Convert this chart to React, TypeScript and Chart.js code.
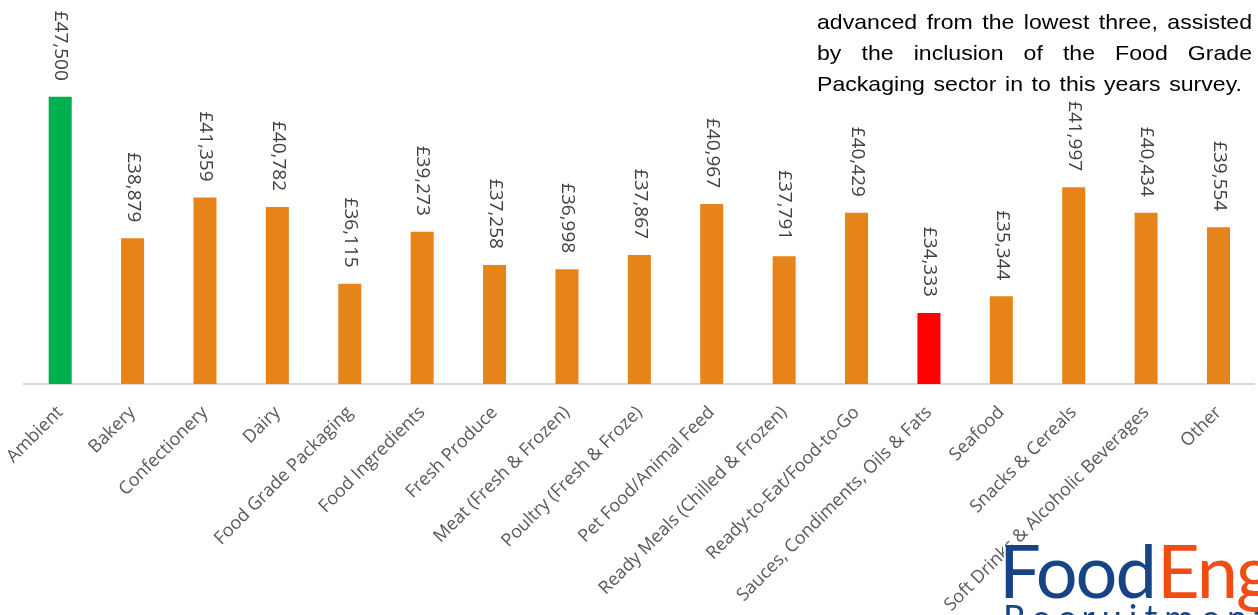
import React, { useEffect, useRef } from "react";
import { Chart, registerables } from "chart.js";

Chart.register(...registerables);

const categories = [
  "Ambient",
  "Bakery",
  "Confectionery",
  "Dairy",
  "Food Grade Packaging",
  "Food Ingredients",
  "Fresh Produce",
  "Meat (Fresh & Frozen)",
  "Poultry (Fresh & Froze)",
  "Pet Food/Animal Feed",
  "Ready Meals (Chilled & Frozen)",
  "Ready-to-Eat/Food-to-Go",
  "Sauces, Condiments, Oils & Fats",
  "Seafood",
  "Snacks & Cereals",
  "Soft Drinks & Alcoholic Beverages",
  "Other",
];

const salaries = [
  47500, 38879, 41359, 40782, 36115, 39273, 37258, 36998, 37867, 40967, 37791,
  40429, 34333, 35344, 41997, 40434, 39554,
];

const highestCategory = "Ambient";
const lowestCategory = "Sauces, Condiments, Oils & Fats";

const yMin = 30000;
const yMax = 53400;

const paragraphLines = [
  "advanced from the lowest three, assisted",
  "by the inclusion of the Food Grade",
  "Packaging sector in to this years survey.",
];

const logoWords = ["Food", "Eng"];
const logoSubtitle = "Recruitment";

const GREEN = "#00b050";
const RED = "#ff0000";
const ORANGE = "#e6841a";

const formatGBP = (v: number) => "£" + v.toLocaleString("en-GB");

const dataLabelPlugin = {
  id: "dataLabels",
  afterDatasetsDraw(chart: any) {
    const ctx = chart.ctx;
    const meta = chart.getDatasetMeta(0);
    const values = chart.data.datasets[0].data as number[];
    ctx.save();
    ctx.font = '19px "Open Sans"';
    ctx.fillStyle = "#404040";
    ctx.textAlign = "right";
    ctx.textBaseline = "alphabetic";
    meta.data.forEach((bar: any, i: number) => {
      ctx.save();
      ctx.translate(bar.x - 4.8, bar.y - 16);
      ctx.rotate(Math.PI / 2);
      ctx.fillText(formatGBP(values[i]), 0, 0);
      ctx.restore();
    });
    ctx.restore();
  },
};

const logoPlugin = {
  id: "logo",
  afterDraw(chart: any) {
    const ctx = chart.ctx;
    ctx.save();
    ctx.fillStyle = "#ffffff";
    ctx.fillRect(1004, 548, 300, 100);
    ctx.textBaseline = "alphabetic";
    ctx.textAlign = "left";
    ctx.font = '400 74px "Lato"';
    (ctx as any).letterSpacing = "-2px";
    ctx.fillStyle = "#164485";
    ctx.fillText(logoWords[0], 999, 598);
    ctx.fillStyle = "#f04d14";
    ctx.fillText(logoWords[1], 1157, 598);
    ctx.font = '400 36px "Lato"';
    (ctx as any).letterSpacing = "7px";
    ctx.fillStyle = "#164485";
    ctx.fillText(logoSubtitle, 1003, 631);
    ctx.restore();
  },
};

export default function App() {
  const canvasRef = useRef<HTMLCanvasElement | null>(null);

  useEffect(() => {
    const canvas = canvasRef.current;
    if (!canvas) return;
    const colors = categories.map((c) =>
      c === highestCategory ? GREEN : c === lowestCategory ? RED : ORANGE
    );
    const chart = new Chart(canvas, {
      type: "bar",
      data: {
        labels: categories,
        datasets: [
          {
            data: salaries,
            backgroundColor: colors,
            borderWidth: 0,
            barPercentage: 0.318,
            categoryPercentage: 1,
          },
        ],
      },
      options: {
        animation: false,
        responsive: false,
        maintainAspectRatio: false,
        devicePixelRatio: 1,
        layout: { padding: { left: 24, right: 3.3, top: 0, bottom: 0 } },
        plugins: {
          legend: { display: false },
          tooltip: { enabled: false },
        },
        scales: {
          x: {
            grid: { display: false, drawTicks: false },
            border: { display: true, color: "#d9d9d9", width: 2 },
            ticks: {
              autoSkip: false,
              minRotation: 45,
              maxRotation: 45,
              padding: 18,
              color: "#595959",
              font: { family: '"Open Sans"', size: 18 },
            },
            afterFit: (s: any) => {
              s.height = 231;
              s.paddingLeft = 0;
              s.paddingRight = 0;
            },
          },
          y: { display: false, min: yMin, max: yMax },
        },
      } as any,
      plugins: [dataLabelPlugin, logoPlugin],
    });
    return () => chart.destroy();
  }, []);

  return (
    <div
      style={{
        position: "absolute",
        left: 0,
        top: 0,
        width: 1258,
        height: 615,
        overflow: "hidden",
        background: "#ffffff",
      }}
    >
      <canvas
        ref={canvasRef}
        width={1258}
        height={615}
        style={{ position: "absolute", left: 0, top: 0, display: "block" }}
      />
      <div
        style={{
          position: "absolute",
          left: 817,
          top: 5.7,
          width: 395.5,
          transform: "scaleX(1.1)",
          transformOrigin: "left top",
          font: '21px "Liberation Sans", Arial, sans-serif',
          lineHeight: "31px",
          color: "#000000",
        }}
      >
        {paragraphLines.map((line, i) => (
          <div
            key={i}
            style={{
              textAlign: i < 2 ? "justify" : "left",
              textAlignLast: i < 2 ? "justify" : "left",
              wordSpacing: i < 2 ? 0 : 2,
            }}
          >
            {line}
          </div>
        ))}
      </div>
    </div>
  );
}
